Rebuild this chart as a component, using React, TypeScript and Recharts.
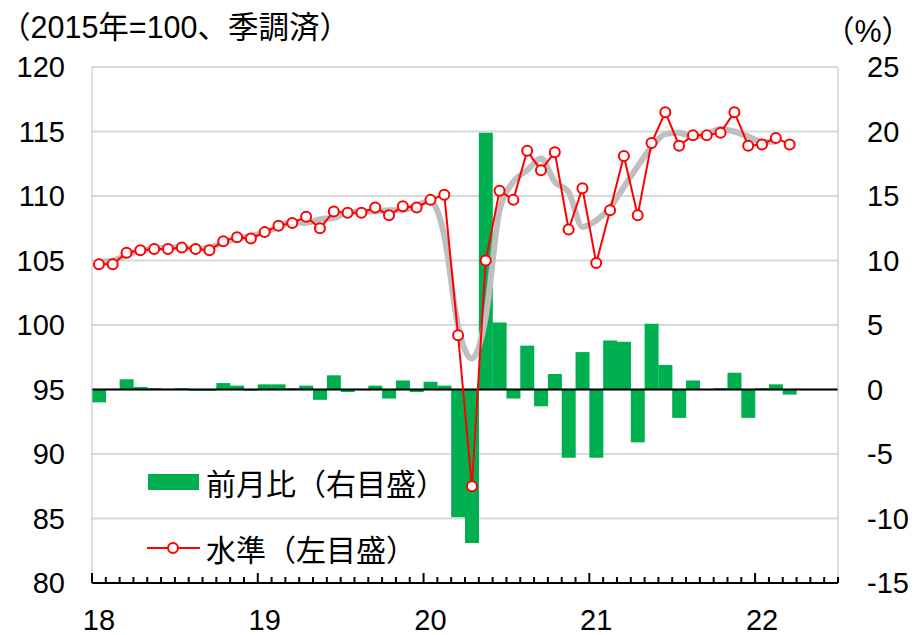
import React from 'react';
import {
  ComposedChart,
  Bar,
  Line,
  XAxis,
  YAxis,
  CartesianGrid,
  ReferenceLine,
  Legend,
} from 'recharts';

const yearLabels = ['18', '19', '20', '21', '22'];
const monthNums = ['1', '2', '3', '4', '5', '6', '7', '8', '9', '10', '11', '12'];
// Jan 2018 .. Jun 2022
const months = yearLabels.flatMap((y) => monthNums.map((m) => `${y}/${m}`)).slice(0, 54);

// 水準 (2015=100, left axis)
const level = [
  104.7, 104.7, 105.6, 105.8, 105.9, 105.9, 106.0, 105.9, 105.8, 106.5, 106.8, 106.7,
  107.2, 107.7, 107.9, 108.4, 107.5, 108.8, 108.7, 108.7, 109.1, 108.5, 109.2, 109.1,
  109.7, 110.1, 99.2, 87.5, 105.0, 110.4, 109.7, 113.5, 112.0, 113.4, 107.4, 110.6,
  104.8, 108.9, 113.1, 108.5, 114.1, 116.5, 113.9, 114.7, 114.7, 114.9, 116.5, 113.9,
  114.0, 114.5, 114.0,
];

// 前月比 % (right axis)
const change = [
  -1.0, 0.0, 0.8, 0.2, 0.1, 0.0, 0.1, -0.1, -0.1, 0.5, 0.3, -0.1,
  0.4, 0.4, 0.1, 0.3, -0.8, 1.1, -0.2, 0.0, 0.3, -0.7, 0.7, -0.2,
  0.6, 0.3, -9.9, -11.9, 19.9, 5.2, -0.7, 3.4, -1.3, 1.2, -5.3, 2.9,
  -5.3, 3.8, 3.7, -4.1, 5.1, 1.9, -2.2, 0.7, 0.0, 0.1, 1.3, -2.2,
  0.1, 0.4, -0.4,
];

// gray smoothed line (left axis)
const trend = [
  104.9, 105.0, 105.4, 105.8, 105.9, 106.0, 106.0, 105.9, 106.0, 106.4, 106.7, 106.9,
  107.2, 107.6, 108.0, 107.9, 108.2, 108.3, 108.7, 108.8, 108.8, 108.9, 108.9, 109.3,
  109.6, 106.9, 99.9, 97.4, 100.6, 108.9, 111.1, 112.0, 112.9, 111.1, 110.3, 107.6,
  108.1, 109.1, 110.7, 112.3, 113.8, 114.8, 114.9, 114.6, 114.8, 115.2, 115.0, 114.6,
  114.2, 114.2,
];

const leftTicks = [80, 85, 90, 95, 100, 105, 110, 115, 120];
const rightTicks = [-15, -10, -5, 0, 5, 10, 15, 20, 25];

const data = months.map((m, i) => ({
  month: m,
  level: level[i] ?? null,
  change: change[i] ?? null,
  trend: trend[i] ?? null,
}));

const W = 916;
const H = 635;
const LEFT_W = 92;
const RIGHT_W = 78;
const band = (W - LEFT_W - RIGHT_W) / months.length;
const FONT = '"Liberation Sans", Arial, "Noto Sans CJK JP", sans-serif';
const FS = 29;

const MonthTick = (props: any) => {
  const { x, y, index } = props;
  const isJan = index % 12 === 0;
  const left = x - band / 2;
  return (
    <g>
      <line x1={left} x2={left} y1={y} y2={y - (isJan ? 10 : 6)} stroke="#000" strokeWidth={2} />
      {index === months.length - 1 && (
        <line x1={x + band / 2} x2={x + band / 2} y1={y} y2={y - 6} stroke="#000" strokeWidth={2} />
      )}
      {isJan && (
        <text x={x} y={y + 37} textAnchor="middle" dominantBaseline="central" fontSize={FS} fontFamily={FONT} fill="#000">
          {yearLabels[index / 12]}
        </text>
      )}
    </g>
  );
};

const renderLegend = () => (
  <div style={{ fontFamily: FONT, fontSize: 30, color: '#000' }}>
    <div style={{ display: 'flex', alignItems: 'center', height: 40, marginBottom: 26 }}>
      <svg width={60} height={20}>
        <rect x={2} y={2} width={51} height={16} fill="#00B050" />
      </svg>
      <span style={{ whiteSpace: 'nowrap' }}>前月比（右目盛）</span>
    </div>
    <div style={{ display: 'flex', alignItems: 'center', height: 40 }}>
      <svg width={60} height={20}>
        <line x1={1} x2={54} y1={10} y2={10} stroke="#FF0000" strokeWidth={2} />
        <circle cx={27} cy={10} r={5} fill="#fff" stroke="#FF0000" strokeWidth={2} />
      </svg>
      <span style={{ whiteSpace: 'nowrap' }}>水準（左目盛）</span>
    </div>
  </div>
);

const App = () => {
  return (
    <div style={{ position: 'absolute', left: 0, top: 0, width: W, height: H, background: '#fff', fontFamily: FONT }}>
      <div style={{ position: 'absolute', left: 0, top: 27, transform: 'translateY(-50%)', fontSize: 30.5, lineHeight: 1, whiteSpace: 'nowrap' }}>
        （2015年=100、季調済）
      </div>
      <div style={{ position: 'absolute', left: 824, top: 31, transform: 'translateY(-50%)', fontSize: 30.5, lineHeight: 1, whiteSpace: 'nowrap' }}>
        （%）
      </div>
      <ComposedChart
        width={W}
        height={H}
        data={data}
        margin={{ top: 67, right: 0, left: 0, bottom: 0 }}
        barCategoryGap={0}
        barGap={0}
      >
        <CartesianGrid yAxisId="left" horizontal vertical={false} stroke="#D9D9D9" strokeWidth={2} />
        <XAxis
          dataKey="month"
          xAxisId={0}
          height={52}
          interval={0}
          tickSize={0}
          tickMargin={0}
          tickLine={false}
          axisLine={{ stroke: '#000', strokeWidth: 2 }}
          tick={<MonthTick />}
        />
        <YAxis
          yAxisId="left"
          orientation="left"
          width={LEFT_W}
          domain={[80, 120]}
          ticks={leftTicks}
          tickSize={0}
          tickMargin={27}
          tickLine={false}
          axisLine={{ stroke: '#BFBFBF', strokeWidth: 1 }}
          tick={{ fontSize: FS, fill: '#000', fontFamily: FONT }}
        />
        <YAxis
          yAxisId="right"
          orientation="right"
          width={RIGHT_W}
          domain={[-15, 25]}
          ticks={rightTicks}
          tickSize={0}
          tickMargin={29}
          tickLine={false}
          axisLine={{ stroke: '#BFBFBF', strokeWidth: 1 }}
          tick={{ fontSize: FS, fill: '#000', fontFamily: FONT, textAnchor: 'start' }}
        />
        <Legend
          layout="vertical"
          align="center"
          verticalAlign="middle"
          wrapperStyle={{ left: 146, top: 462, width: 320 }}
          content={renderLegend}
        />
        <Bar yAxisId="right" dataKey="change" fill="#00B050" isAnimationActive={false} />
        <ReferenceLine yAxisId="right" y={0} stroke="#000" strokeWidth={2} />
        <Line
          yAxisId="left"
          type="monotone"
          dataKey="trend"
          stroke="#BFBFBF"
          strokeWidth={6}
          dot={false}
          connectNulls={false}
          isAnimationActive={false}
        />
        <Line
          yAxisId="left"
          type="linear"
          dataKey="level"
          stroke="#FF0000"
          strokeWidth={2}
          dot={{ r: 5, stroke: '#FF0000', strokeWidth: 2, fill: '#fff' }}
          isAnimationActive={false}
        />
      </ComposedChart>
    </div>
  );
};

export default App;
